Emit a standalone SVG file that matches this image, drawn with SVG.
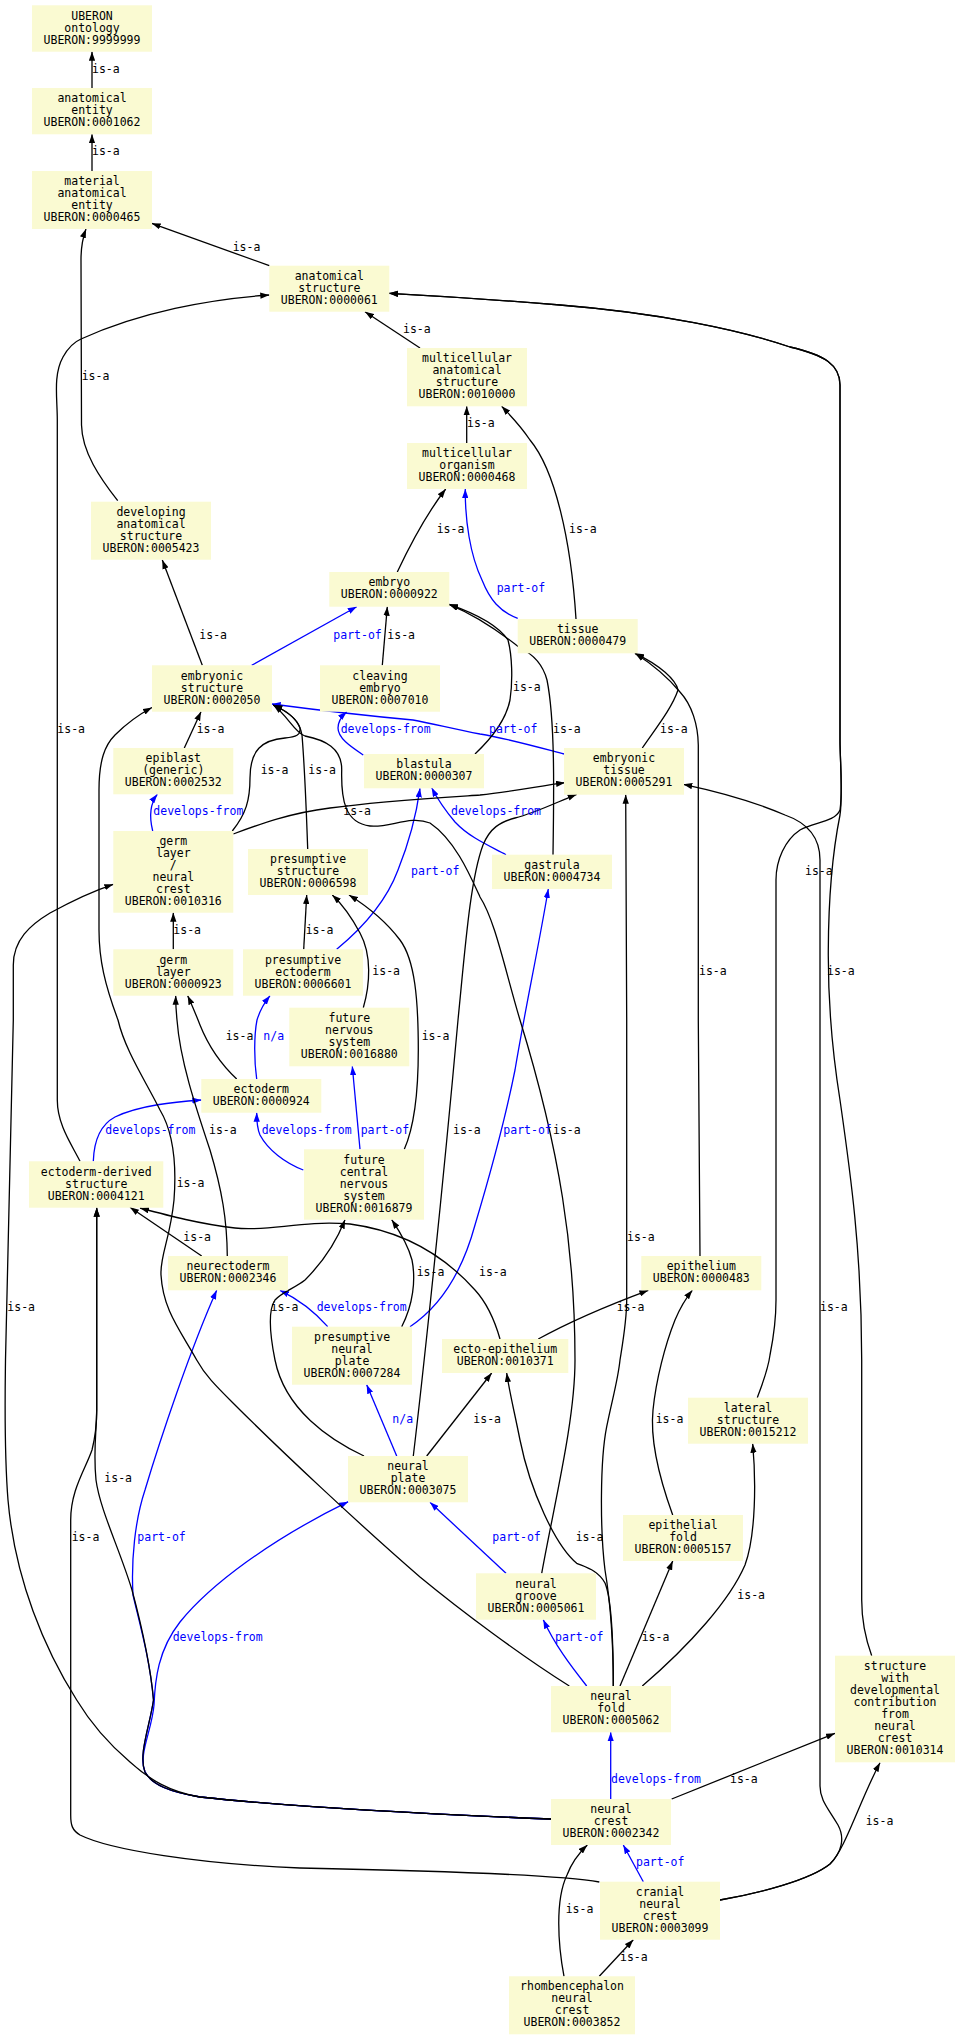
<svg xmlns="http://www.w3.org/2000/svg" width="960" height="2040" viewBox="0 0 960 2040">
<style>
text{font-family:"DejaVu Sans Mono","Liberation Mono",monospace;font-size:11.5px;fill:#000}
.nd rect{fill:#FAFAD2;stroke:none}
.nd text{text-anchor:middle}
.e{fill:none;stroke:#000;stroke-width:1.3;marker-end:url(#ak)}
.b{fill:none;stroke:#0000FF;stroke-width:1.3;marker-end:url(#ab)}
.lb{fill:#0000FF}
</style>
<defs>
<marker id="ak" viewBox="0 0 10 7" refX="10" refY="3.5" markerWidth="9" markerHeight="6.5" markerUnits="userSpaceOnUse" orient="auto"><path d="M0,0L10,3.5L0,7z" fill="#000"/></marker>
<marker id="ab" viewBox="0 0 10 7" refX="10" refY="3.5" markerWidth="9" markerHeight="6.5" markerUnits="userSpaceOnUse" orient="auto"><path d="M0,0L10,3.5L0,7z" fill="#0000FF"/></marker>
</defs>
<rect width="960" height="2040" fill="#fff"/>
<g id="connectors">
<!-- blue edges -->
<path class="b" d="M517.7,618.3 C500,612 490,600 482,580 C470,555 465,520 465.3,489"/>
<path class="b" d="M251.7,665.3 L356.7,606.7"/>
<path class="b" d="M564,754 C530,745 505,738 480,734 C450,728 430,723 413,720 C380,717 340,713 271.7,704"/>
<path class="b" d="M363.3,755 C350,746 338,738 338,728 C338,722 342,716 346.7,711.7"/>
<path class="b" d="M506,854.7 C490,846 470,838 455,822 C445,810 438,800 431.7,787.7"/>
<path class="b" d="M152.7,831 C150,820 149,805 157.3,794.3"/>
<path class="b" d="M336.7,949.3 C360,930 385,905 398,870 C410,840 417,810 420,788.3"/>
<path class="b" d="M256.7,1079 C254,1060 254,1035 257,1020 C260,1010 265,1002 270,995.7"/>
<path class="b" d="M93.3,1161.3 C94,1140 100,1125 115,1117 C140,1105 175,1102 201.3,1100"/>
<path class="b" d="M303.3,1170 C285,1163 268,1150 260,1135 C257,1128 256.7,1120 256.7,1112.7"/>
<path class="b" d="M360,1149.3 L352.3,1066.3"/>
<path class="b" d="M327.7,1326.7 C315,1312 300,1300 280,1290.3"/>
<path class="b" d="M410,1326.7 C435,1310 460,1280 475,1225 C490,1175 505,1120 515,1070 C525,1010 538,950 548.3,889"/>
<path class="b" d="M396.7,1456 L366.7,1384.7"/>
<path class="b" d="M506,1573.3 L430,1502.3"/>
<path class="b" d="M586.7,1686 C570,1665 555,1645 543.3,1619.7"/>
<path class="b" d="M551,1819 C450,1815 300,1808 200,1797 C170,1792 152,1785 145,1772 C138,1755 152,1730 154,1705 C155,1680 158,1650 180,1622 C210,1585 270,1540 348.3,1501.7"/>
<path class="b" d="M551,1819 C450,1815 300,1808 200,1797 C170,1792 152,1785 145,1772 C138,1755 150,1725 153.5,1700 C150,1660 140,1625 133,1595 C131,1560 135,1520 145,1490 C160,1440 190,1350 216.7,1290.3"/>
<path class="b" d="M610.7,1799 L610.7,1732.3"/>
<path class="b" d="M643.3,1881.7 L623.3,1845"/>
<!-- black edges -->
<path class="e" d="M92,88 L92,51.7"/>
<path class="e" d="M92,171 L92,134.3"/>
<path class="e" d="M269.3,265.7 L151.7,223.3"/>
<path class="e" d="M117.7,500.7 C100,478 82,452 81.5,425 L81,260 C81,245 83,237 86,229"/>
<path class="e" d="M80,1161.3 C72,1145 57.3,1125 57.3,1100 L57.3,420 C57.3,398 53,375 63,357 C68,348 74,342 81,339 C140,312 210,299 269.3,295"/>
<path class="e" d="M420,348 L365,311.7"/>
<path class="e" d="M466.7,443 L466.7,406.3"/>
<path class="e" d="M576,619 C571,540 555,470 530,440 C520,425 510,415 501.7,406.3"/>
<path class="e" d="M397.3,572 C410,545 428,512 445.7,489"/>
<path class="e" d="M202.3,665.3 L162.3,560"/>
<path class="e" d="M382.3,665.3 L387.3,606.7"/>
<path class="e" d="M475,754 C492,738 506,720 510,700 C513,680 512,655 508,640 C500,628 480,615 449,604.3"/>
<path class="e" d="M553,854.7 C554,790 555,720 547,680 C543,665 535,655 520,648 C500,632 475,615 449,604.3"/>
<path class="e" d="M642.3,748 C656,728 672,708 678,690 C676,680 660,665 635,653.3"/>
<path class="e" d="M700,1256 C699,1150 698.3,1050 698.3,1020 L698.3,745 C698,725 692,705 680,692 C670,680 655,666 635,653.3"/>
<path class="e" d="M184.3,748 L201,711.7"/>
<path class="e" d="M232.3,831 C246,814 250,800 250,778 C250,750 262,740 285,738 C296,737 301,735 300,728 C297,718 286,711 273.3,705"/>
<path class="e" d="M307.7,849 C306,800 304,760 302,735 C300,722 290,712 273.3,705"/>
<path class="e" d="M541.7,1573.3 C555,1500 575,1420 575,1360 C575,1250 560,1150 520,1020 C505,970 495,920 480,897 C470,875 455,840 430,823 C410,815 390,828 370,826 C345,823 341,800 341.7,770 C342,748 325,740 305,736 C295,733 288,716 273.3,705"/>
<path class="e" d="M413.3,1456 C420,1400 440,1220 458,1020 C465,950 470,880 483,845 C490,828 500,822 515,818 C535,813 555,803 576.7,794.3"/>
<path class="e" d="M613.3,1686 C613.3,1640 610,1600 605,1570 C600,1530 600,1460 606.7,1426.7 C612,1400 618,1380 620,1360 C624,1335 626.7,1320 626.7,1300 L626.7,1020 L625.7,794.7"/>
<path class="e" d="M613.3,1686 C613.3,1640 612,1600 605,1583 C598,1570 585,1567 576.7,1563.3 C555,1545 530,1490 520,1440 C514,1410 509,1390 506.7,1373"/>
<path class="e" d="M620,1686 L672.7,1561"/>
<path class="e" d="M642.3,1686 C690,1645 730,1600 745,1565 C756,1535 756,1480 752.7,1443.7"/>
<path class="e" d="M569.3,1686 C520,1655 460,1610 420,1577 C360,1525 280,1450 233,1403 C215,1385 205,1375 196.7,1360 C180,1330 163,1310 161,1275 C160,1255 170,1240 174,1200 C177,1160 172,1130 160,1110 C145,1080 125,1050 118,1020 C105,985 99,960 99,930 L99,790 C99,760 105,745 115,735 C125,725 138,715 152,707.5"/>
<path class="e" d="M551,1819 C450,1815 300,1808 200,1797 C170,1792 150,1780 130,1762 C110,1745 90,1722 76.7,1700 C45,1650 15,1580 8,1500 C4,1450 5,1400 5.5,1360 L13.3,1020 L13.3,965 C13.3,940 30,925 50,913 C70,902 90,892 113.3,884.3"/>
<path class="e" d="M551,1819 C450,1815 300,1808 200,1797 C170,1792 152,1785 145,1772 C138,1755 150,1725 153.5,1700 C150,1660 140,1620 132,1590 C120,1550 100,1510 96,1480 C93,1450 96.7,1430 96.7,1410 L96.7,1207.7"/>
<path class="e" d="M599.3,1882 C560,1875 450,1871 300,1868 C200,1864 110,1850 80,1835 C72,1830 70.7,1825 70.7,1815 L70.7,1520 C70.7,1490 85,1470 92,1450 C95,1438 96.7,1425 96.7,1410 L96.7,1207.7"/>
<path class="e" d="M671.7,1799 L835,1733.3"/>
<path class="e" d="M720,1900 C760,1893 810,1880 830,1864 C845,1850 860,1800 880,1762.7"/>
<path class="e" d="M720,1900 C760,1893 810,1880 830,1864 C842,1852 845,1838 838,1825 C828,1808 820,1800 820,1786 L820,860 C820,835 805,822 785,815 C755,802 720,792 683.3,784.3"/>
<path class="e" d="M757.3,1397.7 C762,1385 768,1370 770,1355 C774,1335 776,1320 776,1300 L776,880 C776,860 785,840 800,830 C815,822 835,822 840,810 C843,790 840,760 840,740 L840,385 C840,365 825,355 790,347 C740,330 660,313 560,305 C500,300 440,296 389,293.3"/>
<path class="e" d="M871.7,1655.7 C866,1640 861.7,1620 861.7,1600 L861.7,1360 C861.7,1250 850,1170 840,1100 C832,1050 828,1000 828.3,950 C828.5,900 833,850 840,815 C843,795 840,760 840,740 L840,385 C840,365 825,355 790,347 C740,330 660,313 560,305 C500,300 440,296 389,293.3"/>
<path class="e" d="M173.3,949.3 L173.3,912.7"/>
<path class="e" d="M303.7,949.3 L306.7,895"/>
<path class="e" d="M363.3,1007.7 C370,985 372,955 360,933 C352,918 343,905 332.3,895"/>
<path class="e" d="M404.3,1149.3 C415,1125 418.3,1090 418.3,1050 C418.3,1000 415,960 400,940 C385,920 365,905 349,895"/>
<path class="e" d="M236.7,1079 C225,1068 210,1050 200,1025 C195,1012 191,1003 187.7,995.7"/>
<path class="e" d="M227.3,1256 C227,1220 222,1190 210,1150 C195,1105 180,1060 177,1020 C176,1010 175.7,1003 175.7,995.7"/>
<path class="e" d="M201.7,1256 L130,1207.3"/>
<path class="e" d="M500,1339 C494,1318 486,1302 475,1290 C450,1262 410,1232 350,1224 C300,1220 270,1232 235,1228 C200,1224 170,1216 140,1208"/>
<path class="e" d="M538.3,1339 C560,1327 590,1312 648.3,1290.3"/>
<path class="e" d="M672.7,1515 C660,1480 650,1440 653,1410 C656,1380 665,1345 675,1320 C680,1308 686,1298 692.3,1290.3"/>
<path class="e" d="M401.7,1326.7 C413,1305 416,1280 412,1260 C408,1245 400,1232 391.7,1219.7"/>
<path class="e" d="M364,1456 C330,1440 285,1410 275,1360 C270,1335 268,1310 275,1300 C282,1292 295,1288 305,1280 C320,1265 335,1245 345,1219.7"/>
<path class="e" d="M426.7,1456 L491.7,1373"/>
<path class="e" d="M233.3,834 C260,824 290,813 330,808 C380,801 450,797 480,795 C510,792 540,786 565,782.7"/>
<path class="e" d="M564,1976.3 C558,1945 555,1900 567,1875 C572,1862 580,1852 587.3,1845"/>
<path class="e" d="M599.3,1976.3 L633.3,1939.7"/>
<!-- labels -->
<text x="92" y="73.3">is-a</text>
<text x="92" y="155.3">is-a</text>
<text x="232.7" y="250.7">is-a</text>
<text x="81.7" y="380">is-a</text>
<text x="57.3" y="733">is-a</text>
<text x="403" y="333.3">is-a</text>
<text x="467" y="427.3">is-a</text>
<text x="569" y="533.3">is-a</text>
<text class="lb" x="496.7" y="592.3">part-of</text>
<text x="436.7" y="533.3">is-a</text>
<text x="199.3" y="639">is-a</text>
<text class="lb" x="333.3" y="639">part-of</text>
<text x="387.3" y="639">is-a</text>
<text x="513" y="690.7">is-a</text>
<text x="553" y="733.3">is-a</text>
<text x="660" y="733.3">is-a</text>
<text x="699" y="975">is-a</text>
<text class="lb" x="489" y="733.3">part-of</text>
<text class="lb" x="340.7" y="733.3">develops-from</text>
<text class="lb" x="451" y="815">develops-from</text>
<text x="196.7" y="733.3">is-a</text>
<text class="lb" x="153.3" y="815">develops-from</text>
<text x="260.7" y="774">is-a</text>
<text x="308.3" y="774">is-a</text>
<text x="553" y="1134">is-a</text>
<text x="453" y="1134">is-a</text>
<text x="627" y="1241">is-a</text>
<text x="575.7" y="1541">is-a</text>
<text x="641.7" y="1641">is-a</text>
<text x="737.3" y="1599.3">is-a</text>
<text class="lb" x="555" y="1641">part-of</text>
<text x="176.7" y="1187.3">is-a</text>
<text x="7.3" y="1311.3">is-a</text>
<text x="104.3" y="1482.3">is-a</text>
<text x="71.7" y="1541">is-a</text>
<text class="lb" x="172.7" y="1641">develops-from</text>
<text class="lb" x="137.3" y="1541">part-of</text>
<text x="730" y="1783.3">is-a</text>
<text class="lb" x="611" y="1783.3">develops-from</text>
<text class="lb" x="636" y="1866">part-of</text>
<text x="865.7" y="1825.3">is-a</text>
<text x="820" y="1311.3">is-a</text>
<text x="805" y="875">is-a</text>
<text x="827" y="975">is-a</text>
<text x="173.3" y="934">is-a</text>
<text x="305.7" y="934">is-a</text>
<text class="lb" x="411" y="875">part-of</text>
<text x="372.3" y="975">is-a</text>
<text x="421.7" y="1040">is-a</text>
<text x="225.7" y="1040">is-a</text>
<text class="lb" x="263.3" y="1040">n/a</text>
<text x="209" y="1134">is-a</text>
<text class="lb" x="105.3" y="1134">develops-from</text>
<text class="lb" x="261.7" y="1134">develops-from</text>
<text class="lb" x="360.7" y="1134">part-of</text>
<text x="183.3" y="1241.3">is-a</text>
<text x="479" y="1276.3">is-a</text>
<text x="616.7" y="1311.3">is-a</text>
<text x="655.7" y="1423.3">is-a</text>
<text class="lb" x="316.7" y="1311.3">develops-from</text>
<text x="416.7" y="1276.3">is-a</text>
<text class="lb" x="503.3" y="1134">part-of</text>
<text class="lb" x="392.3" y="1423.3">n/a</text>
<text x="270.7" y="1311.3">is-a</text>
<text x="473.3" y="1423.3">is-a</text>
<text class="lb" x="492.3" y="1541">part-of</text>
<text x="343.3" y="815">is-a</text>
<text x="565.7" y="1913.3">is-a</text>
<text x="620" y="1961.3">is-a</text>
</g>
<g id="n9999999" class="nd"><rect x="32" y="5.3" width="120" height="46.4"/><text><tspan x="92" y="19.5">UBERON</tspan><tspan x="92" y="31.5">ontology</tspan><tspan x="92" y="43.5">UBERON:9999999</tspan></text></g>
<g id="n0001062" class="nd"><rect x="32" y="88" width="120" height="46.3"/><text><tspan x="92" y="102.2">anatomical</tspan><tspan x="92" y="114.2">entity</tspan><tspan x="92" y="126.2">UBERON:0001062</tspan></text></g>
<g id="n0000465" class="nd"><rect x="32" y="171" width="120" height="58"/><text><tspan x="92" y="185">material</tspan><tspan x="92" y="197">anatomical</tspan><tspan x="92" y="209">entity</tspan><tspan x="92" y="221">UBERON:0000465</tspan></text></g>
<g id="n0000061" class="nd"><rect x="269.3" y="265.7" width="120" height="46"/><text><tspan x="329.3" y="279.7">anatomical</tspan><tspan x="329.3" y="291.7">structure</tspan><tspan x="329.3" y="303.7">UBERON:0000061</tspan></text></g>
<g id="n0010000" class="nd"><rect x="407" y="348" width="120" height="58.3"/><text><tspan x="467" y="362.2">multicellular</tspan><tspan x="467" y="374.2">anatomical</tspan><tspan x="467" y="386.2">structure</tspan><tspan x="467" y="398.2">UBERON:0010000</tspan></text></g>
<g id="n0000468" class="nd"><rect x="407" y="443" width="120" height="46"/><text><tspan x="467" y="457">multicellular</tspan><tspan x="467" y="469">organism</tspan><tspan x="467" y="481">UBERON:0000468</tspan></text></g>
<g id="n0005423" class="nd"><rect x="91" y="501.7" width="120" height="58"/><text><tspan x="151" y="515.7">developing</tspan><tspan x="151" y="527.7">anatomical</tspan><tspan x="151" y="539.7">structure</tspan><tspan x="151" y="551.7">UBERON:0005423</tspan></text></g>
<g id="n0000922" class="nd"><rect x="329.3" y="572" width="120" height="34.7"/><text><tspan x="389.3" y="586.3">embryo</tspan><tspan x="389.3" y="598.3">UBERON:0000922</tspan></text></g>
<g id="n0000479" class="nd"><rect x="517.7" y="619" width="120" height="34.3"/><text><tspan x="577.7" y="633.2">tissue</tspan><tspan x="577.7" y="645.2">UBERON:0000479</tspan></text></g>
<g id="n0002050" class="nd"><rect x="152" y="665.3" width="120" height="46.4"/><text><tspan x="212" y="679.5">embryonic</tspan><tspan x="212" y="691.5">structure</tspan><tspan x="212" y="703.5">UBERON:0002050</tspan></text></g>
<g id="n0007010" class="nd"><rect x="320" y="665.3" width="120" height="46.4"/><text><tspan x="380" y="679.5">cleaving</tspan><tspan x="380" y="691.5">embryo</tspan><tspan x="380" y="703.5">UBERON:0007010</tspan></text></g>
<g id="n0005291" class="nd"><rect x="564" y="748" width="120" height="46.7"/><text><tspan x="624" y="762.3">embryonic</tspan><tspan x="624" y="774.3">tissue</tspan><tspan x="624" y="786.3">UBERON:0005291</tspan></text></g>
<g id="n0002532" class="nd"><rect x="113.3" y="748" width="120" height="46.3"/><text><tspan x="173.3" y="762.2">epiblast</tspan><tspan x="173.3" y="774.2">(generic)</tspan><tspan x="173.3" y="786.2">UBERON:0002532</tspan></text></g>
<g id="n0000307" class="nd"><rect x="364" y="754" width="120" height="34.3"/><text><tspan x="424" y="768.2">blastula</tspan><tspan x="424" y="780.2">UBERON:0000307</tspan></text></g>
<g id="n0004734" class="nd"><rect x="492" y="854.7" width="120" height="34.3"/><text><tspan x="552" y="868.8">gastrula</tspan><tspan x="552" y="880.8">UBERON:0004734</tspan></text></g>
<g id="n0010316" class="nd"><rect x="113.3" y="831" width="120" height="81.7"/><text><tspan x="173.3" y="844.8">germ</tspan><tspan x="173.3" y="856.8">layer</tspan><tspan x="173.3" y="868.8">/</tspan><tspan x="173.3" y="880.8">neural</tspan><tspan x="173.3" y="892.8">crest</tspan><tspan x="173.3" y="904.8">UBERON:0010316</tspan></text></g>
<g id="n0006598" class="nd"><rect x="248" y="849" width="120" height="46"/><text><tspan x="308" y="863">presumptive</tspan><tspan x="308" y="875">structure</tspan><tspan x="308" y="887">UBERON:0006598</tspan></text></g>
<g id="n0000923" class="nd"><rect x="113.3" y="949.3" width="120" height="46.4"/><text><tspan x="173.3" y="963.5">germ</tspan><tspan x="173.3" y="975.5">layer</tspan><tspan x="173.3" y="987.5">UBERON:0000923</tspan></text></g>
<g id="n0006601" class="nd"><rect x="243" y="949.3" width="120" height="46.4"/><text><tspan x="303" y="963.5">presumptive</tspan><tspan x="303" y="975.5">ectoderm</tspan><tspan x="303" y="987.5">UBERON:0006601</tspan></text></g>
<g id="n0016880" class="nd"><rect x="289.3" y="1007.7" width="120" height="58.6"/><text><tspan x="349.3" y="1022">future</tspan><tspan x="349.3" y="1034">nervous</tspan><tspan x="349.3" y="1046">system</tspan><tspan x="349.3" y="1058">UBERON:0016880</tspan></text></g>
<g id="n0000924" class="nd"><rect x="201.3" y="1079" width="120" height="33.7"/><text><tspan x="261.3" y="1092.9">ectoderm</tspan><tspan x="261.3" y="1104.9">UBERON:0000924</tspan></text></g>
<g id="n0004121" class="nd"><rect x="29" y="1161.3" width="134.3" height="46.4"/><text><tspan x="96.2" y="1175.5">ectoderm-derived</tspan><tspan x="96.2" y="1187.5">structure</tspan><tspan x="96.2" y="1199.5">UBERON:0004121</tspan></text></g>
<g id="n0016879" class="nd"><rect x="304" y="1149.3" width="120" height="70.4"/><text><tspan x="364" y="1163.5">future</tspan><tspan x="364" y="1175.5">central</tspan><tspan x="364" y="1187.5">nervous</tspan><tspan x="364" y="1199.5">system</tspan><tspan x="364" y="1211.5">UBERON:0016879</tspan></text></g>
<g id="n0002346" class="nd"><rect x="168" y="1256" width="120" height="34.3"/><text><tspan x="228" y="1270.2">neurectoderm</tspan><tspan x="228" y="1282.2">UBERON:0002346</tspan></text></g>
<g id="n0007284" class="nd"><rect x="292" y="1326.7" width="120" height="58"/><text><tspan x="352" y="1340.7">presumptive</tspan><tspan x="352" y="1352.7">neural</tspan><tspan x="352" y="1364.7">plate</tspan><tspan x="352" y="1376.7">UBERON:0007284</tspan></text></g>
<g id="n0010371" class="nd"><rect x="442" y="1339" width="126.3" height="34"/><text><tspan x="505.2" y="1353">ecto-epithelium</tspan><tspan x="505.2" y="1365">UBERON:0010371</tspan></text></g>
<g id="n0000483" class="nd"><rect x="641.3" y="1256" width="120" height="34.3"/><text><tspan x="701.3" y="1270.2">epithelium</tspan><tspan x="701.3" y="1282.2">UBERON:0000483</tspan></text></g>
<g id="n0015212" class="nd"><rect x="688" y="1397.7" width="120" height="46"/><text><tspan x="748" y="1411.7">lateral</tspan><tspan x="748" y="1423.7">structure</tspan><tspan x="748" y="1435.7">UBERON:0015212</tspan></text></g>
<g id="n0003075" class="nd"><rect x="348" y="1456" width="120" height="46.3"/><text><tspan x="408" y="1470.2">neural</tspan><tspan x="408" y="1482.2">plate</tspan><tspan x="408" y="1494.2">UBERON:0003075</tspan></text></g>
<g id="n0005157" class="nd"><rect x="623" y="1515" width="120" height="46"/><text><tspan x="683" y="1529">epithelial</tspan><tspan x="683" y="1541">fold</tspan><tspan x="683" y="1553">UBERON:0005157</tspan></text></g>
<g id="n0005061" class="nd"><rect x="476" y="1573.3" width="120" height="46.4"/><text><tspan x="536" y="1587.5">neural</tspan><tspan x="536" y="1599.5">groove</tspan><tspan x="536" y="1611.5">UBERON:0005061</tspan></text></g>
<g id="n0005062" class="nd"><rect x="551" y="1686" width="120" height="46.3"/><text><tspan x="611" y="1700.2">neural</tspan><tspan x="611" y="1712.2">fold</tspan><tspan x="611" y="1724.2">UBERON:0005062</tspan></text></g>
<g id="n0010314" class="nd"><rect x="835" y="1655.7" width="120" height="106.6"/><text><tspan x="895" y="1670">structure</tspan><tspan x="895" y="1682">with</tspan><tspan x="895" y="1694">developmental</tspan><tspan x="895" y="1706">contribution</tspan><tspan x="895" y="1718">from</tspan><tspan x="895" y="1730">neural</tspan><tspan x="895" y="1742">crest</tspan><tspan x="895" y="1754">UBERON:0010314</tspan></text></g>
<g id="n0002342" class="nd"><rect x="551" y="1799" width="120" height="46"/><text><tspan x="611" y="1813">neural</tspan><tspan x="611" y="1825">crest</tspan><tspan x="611" y="1837">UBERON:0002342</tspan></text></g>
<g id="n0003099" class="nd"><rect x="600" y="1881.7" width="120" height="58"/><text><tspan x="660" y="1895.7">cranial</tspan><tspan x="660" y="1907.7">neural</tspan><tspan x="660" y="1919.7">crest</tspan><tspan x="660" y="1931.7">UBERON:0003099</tspan></text></g>
<g id="n0003852" class="nd"><rect x="509" y="1976.3" width="126" height="58"/><text><tspan x="572" y="1990.3">rhombencephalon</tspan><tspan x="572" y="2002.3">neural</tspan><tspan x="572" y="2014.3">crest</tspan><tspan x="572" y="2026.3">UBERON:0003852</tspan></text></g>
</svg>
